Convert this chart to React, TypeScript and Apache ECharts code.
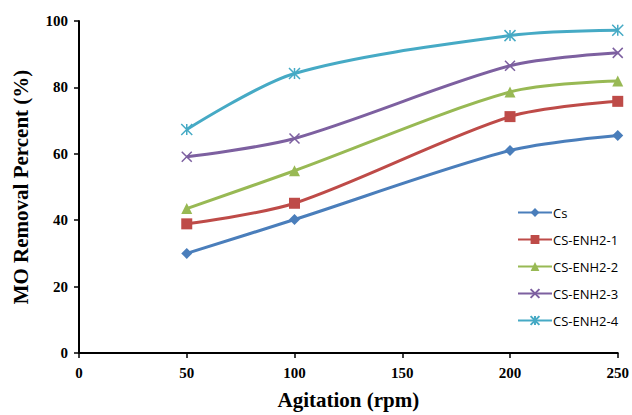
import React, { useEffect, useRef } from "react";
import * as echarts from "echarts";

// Agitation speeds (rpm)
const agitation = [50, 100, 200, 250];

// MO removal percent (%) for each sorbent
const cs = [30.0, 40.2, 61.0, 65.5];
const csEnh1 = [38.9, 45.1, 71.2, 75.8];
const csEnh2 = [43.5, 54.9, 78.6, 81.9];
const csEnh3 = [59.1, 64.6, 86.5, 90.4];
const csEnh4 = [67.3, 84.2, 95.6, 97.2];

const seriesNames = ["Cs", "CS-ENH2-1", "CS-ENH2-2", "CS-ENH2-3", "CS-ENH2-4"];
const seriesColors = ["#4A7EBB", "#BE4B48", "#98B954", "#7D60A0", "#46AAC5"];

const xPath = "path://M0 0 L10 10 M10 0 L0 10";
const starPath = "path://M0 0 L10 10 M10 0 L0 10 M5 0 L5 10";
const seriesSymbols = ["diamond", "rect", "triangle", xPath, starPath];
const seriesSizes = [11, 11, 11, 10, 11];

const serif = "'Liberation Serif', 'Times New Roman', serif";

export default function App() {
  const ref = useRef<HTMLDivElement>(null);

  useEffect(() => {
    if (!ref.current) return;
    const chart = echarts.init(ref.current, undefined, { renderer: "svg" });
    const values = [cs, csEnh1, csEnh2, csEnh3, csEnh4];

    chart.setOption({
      animation: false,
      backgroundColor: "#ffffff",
      grid: { left: 79, right: 13, top: 21, bottom: 61 },
      legend: {
        orient: "vertical",
        left: 512,
        top: 201,
        itemWidth: 34,
        itemHeight: 11,
        itemGap: 14,
        textStyle: { fontFamily: "'Open Sans', 'Liberation Sans', sans-serif", fontSize: 13, color: "#000", padding: [0, 0, 0, -4] },
        data: seriesNames,
      },
      xAxis: {
        type: "value",
        min: 0,
        max: 250,
        interval: 50,
        name: "Agitation (rpm)",
        nameLocation: "middle",
        nameGap: 36,
        nameTextStyle: { fontFamily: serif, fontWeight: "bold", fontSize: 21, color: "#000" },
        axisLine: { lineStyle: { color: "#000", width: 2 } },
        axisTick: { show: true, length: 5, lineStyle: { color: "#000", width: 1.5 } },
        axisLabel: { fontFamily: serif, fontWeight: "bold", fontSize: 15, color: "#000", margin: 12 },
        splitLine: { show: false },
      },
      yAxis: {
        type: "value",
        min: 0,
        max: 100,
        interval: 20,
        name: "MO Removal Percent (%)",
        nameLocation: "middle",
        nameGap: 48,
        nameRotate: 90,
        nameTextStyle: { fontFamily: serif, fontWeight: "bold", fontSize: 21, color: "#000" },
        axisLine: { show: true, lineStyle: { color: "#000", width: 2 } },
        axisTick: { show: true, length: 5, lineStyle: { color: "#000", width: 1.5 } },
        axisLabel: { fontFamily: serif, fontWeight: "bold", fontSize: 15, color: "#000", margin: 11 },
        splitLine: { show: false },
      },
      series: seriesNames.map((name, i) => ({
        name,
        type: "line",
        smooth: 0.3,
        data: agitation.map((x, j) => [x, values[i][j]]),
        symbol: seriesSymbols[i],
        symbolSize: seriesSizes[i],
        showAllSymbol: true,
        lineStyle: { color: seriesColors[i], width: 3 },
        itemStyle: {
          color: seriesColors[i],
          borderColor: seriesColors[i],
          borderWidth: i >= 3 ? 1.5 : 0,
        },
      })),
    });

    return () => chart.dispose();
  }, []);

  return <div ref={ref} style={{ width: 632, height: 415, position: "absolute", left: 0, top: 0 }} />;
}
